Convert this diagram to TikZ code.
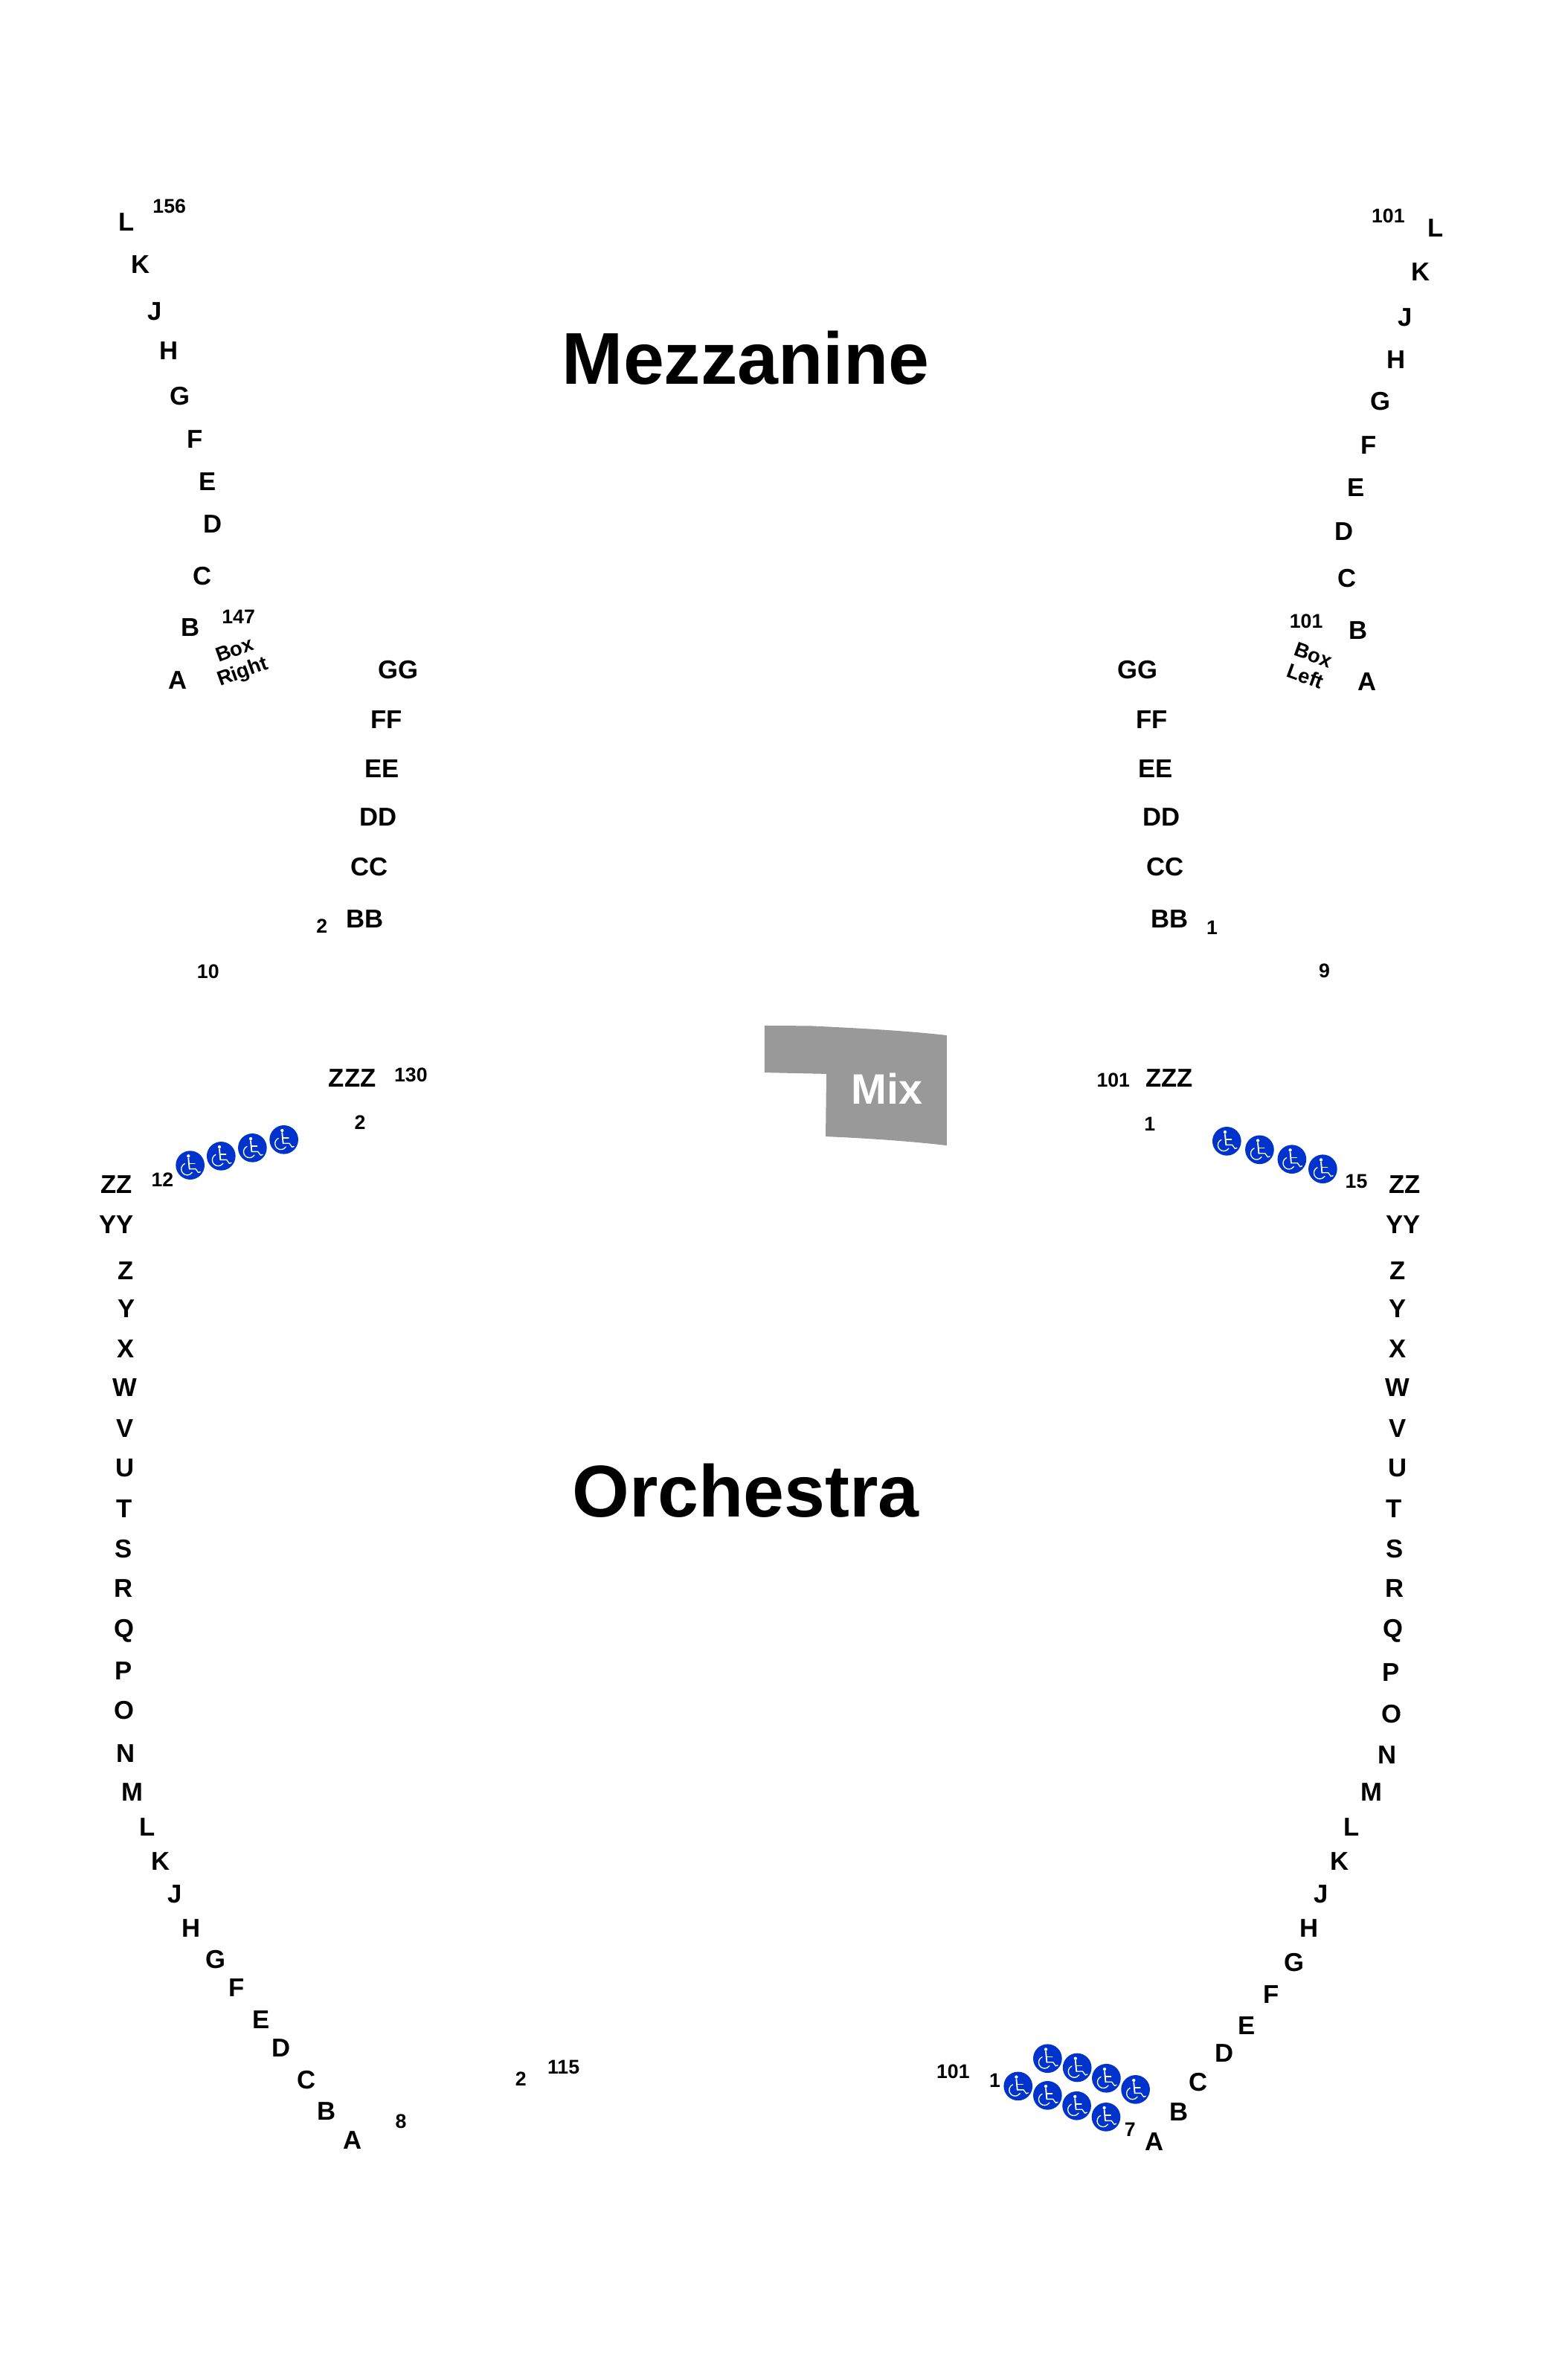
\documentclass[tikz,border=0pt]{standalone}
\usepackage{fontspec}
\setmainfont{Liberation Sans}
\definecolor{wcblue}{HTML}{0033CC}
\definecolor{mixgray}{HTML}{999999}
\tikzset{
  base/.style={inner sep=0pt,outer sep=0pt,anchor=center,text=black},
  rowlab/.style={base,font=\fontsize{26}{26}\selectfont\bfseries},
  numlab/.style={base,font=\fontsize{20}{20}\selectfont\bfseries},
  title/.style={base,font=\fontsize{74}{74}\selectfont\bfseries},
  boxlab/.style={base,align=center,font=\fontsize{20.5}{23}\selectfont\bfseries},
  wheel/.style={circle,inner sep=0pt,outer sep=0pt,minimum size=29pt,fill=wcblue,
    path picture={
      \begin{scope}[shift={(path picture bounding box.center)},x=0.25pt,y=0.25pt,
          white,line width=1pt,line cap=round,line join=round]
        \fill (-7,37) circle (6.5);
        \draw[line width=1.4pt] (-7,28) -- (-3,-15);
        \draw (-3,-15) -- (22,-15) -- (33,-30) -- (41,-27);
        \draw (-3,7) -- (19,7);
        \draw (-22,6) arc (115:325:24);
      \end{scope}
    }},
}
\begin{document}
\begin{tikzpicture}[x=1.5315pt,y=-1.5315pt]
\useasboundingbox[fill=white] (0,0) rectangle (1028.4,1567.1);
% Mix booth
\fill[mixgray] (503.4,675.3) -- (533.8,675.5) .. controls (565,677) and (595,678.5) .. (623.4,681.7)
  -- (623.4,754.2) .. controls (595,751) and (570,749.5) .. (543.6,748.3)
  -- (544.1,707.1) -- (503.4,706.2) -- cycle;
\node[base,text=white,font=\fontsize{43}{43}\selectfont\bfseries] (mix) at (583.9,716.6) {Mix};
% Titles
\node[title] (mezz) at (491,235.5) {Mezzanine};
\node[title] (orch) at (491,981.5) {Orchestra};
% Mezzanine, left box rows
\foreach \t/\x/\y in {L/83.5/146,K/92.5/174,J/102/205,H/111/231,G/118.5/261,F/128.5/289.3,E/136.5/317,D/140/345,C/133/379.5,B/125.5/413,A/117/448}
  \node[rowlab] (ml-\t) at (\x,\y) {\t};
% Mezzanine, right box rows
\foreach \t/\x/\y in {L/945/150,K/935.5/179,J/925/209,H/919/237,G/909/264,F/901/293,E/893/321,D/885/350,C/887/381,B/894/415,A/900/449}
  \node[rowlab] (mr-\t) at (\x,\y) {\t};
% Mezzanine, centre rows
\foreach \t/\x/\y in {GG/262/441,FF/254.5/474,EE/251.5/506,DD/249/538,CC/243/571,BB/240/605,ZZZ/232/710}
  \node[rowlab] (cl-\t) at (\x,\y) {\t};
\foreach \t/\x/\y in {GG/749/441,FF/758.5/474,EE/761/506,DD/764.5/538,CC/767/571,BB/770/605,ZZZ/770/710}
  \node[rowlab] (cr-\t) at (\x,\y) {\t};
% Orchestra, left rows
\foreach \t/\x/\y in {ZZ/76.5/780,YY/76.5/806.5,Z/83/836.5,Y/83.5/861.5,X/83/888,W/82/913.5,V/82.5/940.5,U/82.5/966.5,T/82/993.5,S/81.5/1020,R/81.5/1046,Q/82/1074,P/81.5/1100,O/82/1126,N/83/1154.5,M/87/1180,L/97/1203,K/106/1225.5,J/115/1247,H/126/1269.5,G/142/1290,F/156/1309,E/172/1330,D/185/1348.5,C/202/1369.5,B/215/1390,A/232/1409}
  \node[rowlab] (ol-\t) at (\x,\y) {\t};
% Orchestra, right rows
\foreach \t/\x/\y in {ZZ/925/780,YY/924/806.5,Z/920/836.5,Y/920/861.5,X/920/888,W/920/913.5,V/920/940.5,U/920/966.5,T/918/993.5,S/918/1020,R/918/1046,Q/917/1074,P/916/1101,O/916/1128.5,N/913.5/1155.5,M/903/1180,L/890/1203,K/882/1225.5,J/870/1247,H/862/1269.5,G/852/1292,F/837/1313,E/821/1334,D/806/1352,C/789/1371,B/776/1390.5,A/760/1410}
  \node[rowlab] (or-\t) at (\x,\y) {\t};
% Seat numbers
\foreach \n/\t/\x/\y in {a/156/111.5/136,b/147/157/406,c/101/914/142,d/101/860/409,e/2/212/610,f/10/137/639.5,g/1/798/611,h/9/872/639,i/130/270.5/708,j/2/237/739,k/101/733/711,l/1/757/740,m/12/107/777,n/15/893/778,o/8/264/1397,p/2/343/1369,q/115/371/1361,r/7/744/1402,s/1/655/1370,t/101/627.5/1364}
  \node[numlab] (num-\n) at (\x,\y) {\t};
% Box labels
\node[boxlab,rotate=20] (boxr) at (157.5,436) {Box\\Right};
\node[boxlab,rotate=-20] (boxl) at (862,438.5) {Box\\Left};
% Wheelchair seats
\foreach \n/\x/\y in {1/125.2/767.2,2/145.6/761.2,3/166.2/755.8,4/186.9/750.4,5/807.7/751.4,6/829.3/757,7/850.6/763.3,8/870.9/769.7,9/689.7/1355.4,10/709.2/1361.4,11/728.4/1368.4,12/747.6/1375.8,13/670.3/1373.6,14/689.7/1379.7,15/708.9/1386.5,16/728.2/1393.9}
  \node[wheel] (wc-\n) at (\x,\y) {};
\end{tikzpicture}
\end{document}
